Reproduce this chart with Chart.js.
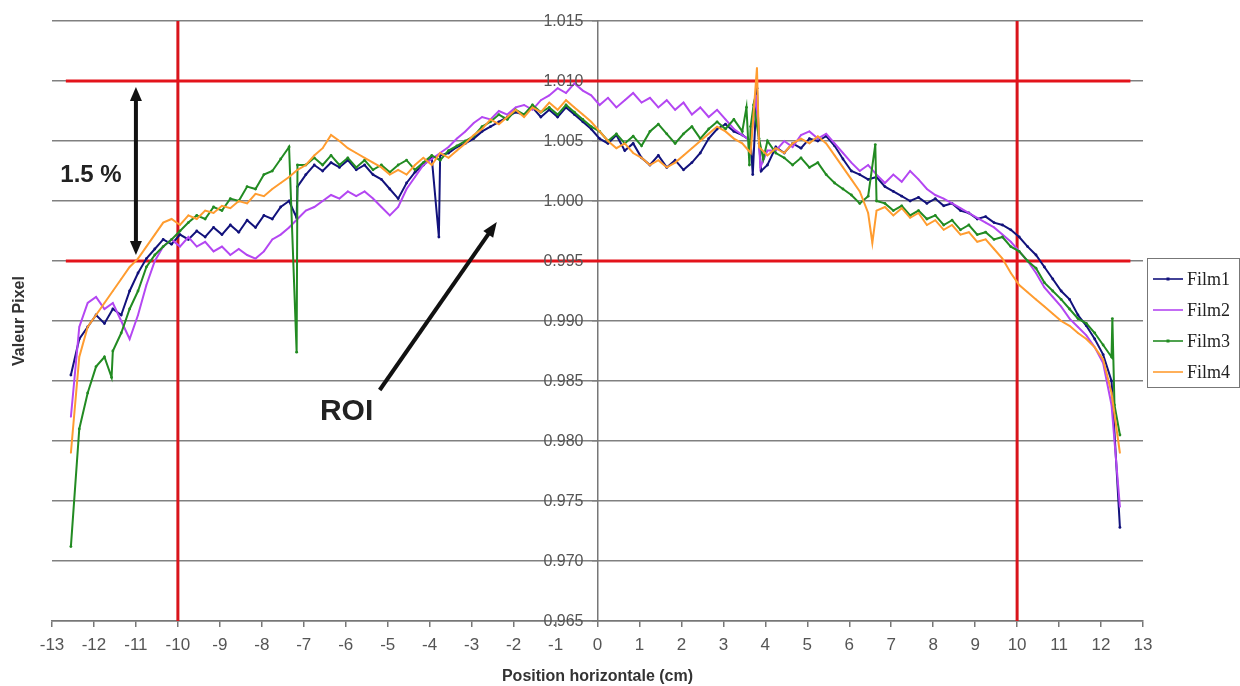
<!DOCTYPE html>
<html><head><meta charset="utf-8">
<script src="https://cdn.jsdelivr.net/npm/chart.js@4.4.0/dist/chart.umd.min.js"></script>
<style>html,body{margin:0;padding:0;background:#fff;}#wrap{width:1240px;height:686px;}</style>
</head><body><div id="wrap"><canvas id="c" width="1240" height="686"></canvas></div>
<script>
// ---- data ----
const positions = [-12.55,-12.35,-12.15,-11.95,-11.75,-11.55,-11.35,-11.15,-10.95,-10.75,-10.55,-10.35,-10.15,-9.95,-9.75,-9.55,-9.35,-9.15,-8.95,-8.75,-8.55,-8.35,-8.15,-7.95,-7.75,-7.55,-7.35,-7.15,-6.95,-6.75,-6.55,-6.35,-6.15,-5.95,-5.75,-5.55,-5.35,-5.15,-4.95,-4.75,-4.55,-4.35,-4.15,-3.95,-3.75,-3.55,-3.35,-3.15,-2.95,-2.75,-2.55,-2.35,-2.15,-1.95,-1.75,-1.55,-1.35,-1.15,-0.95,-0.75,-0.55,-0.35,-0.15,0.05,0.25,0.45,0.65,0.85,1.05,1.25,1.45,1.65,1.85,2.05,2.25,2.45,2.65,2.85,3.05,3.25,3.45,3.65,3.85,4.05,4.25,4.45,4.65,4.85,5.05,5.25,5.45,5.65,5.85,6.05,6.25,6.45,6.65,6.85,7.05,7.25,7.45,7.65,7.85,8.05,8.25,8.45,8.65,8.85,9.05,9.25,9.45,9.65,9.85,10.05,10.25,10.45,10.65,10.85,11.05,11.25,11.45,11.65,11.85,12.05,12.25,12.45];

const film1 = [0.9855,0.9885,0.9895,0.9905,0.9898,0.9910,0.9905,0.9925,0.9940,0.9952,
0.9960,0.9968,0.9964,0.9972,0.9968,0.9975,0.9970,0.9978,0.9972,0.9980,
0.9974,0.9984,0.9978,0.9988,0.9985,0.9995,1.0000,1.0012,1.0022,1.0030,
1.0025,1.0032,1.0028,1.0034,1.0026,1.0030,1.0022,1.0018,1.0010,1.0002,
1.0015,1.0024,1.0030,1.0036,1.0038,1.0040,1.0045,1.0048,1.0052,1.0058,
1.0062,1.0066,1.0070,1.0074,1.0072,1.0078,1.0070,1.0076,1.0070,1.0078,
1.0072,1.0066,1.0060,1.0052,1.0048,1.0055,1.0042,1.0048,1.0036,1.0030,
1.0038,1.0028,1.0034,1.0026,1.0032,1.0040,1.0052,1.0060,1.0064,1.0058,
1.0055,1.0050,1.0048,1.0030,1.0045,1.0040,1.0048,1.0044,1.0052,1.0050,
1.0054,1.0046,1.0035,1.0025,1.0022,1.0018,1.0020,1.0012,1.0008,1.0004,
1.0000,1.0003,0.9998,1.0002,0.9996,0.9998,0.9992,0.9990,0.9985,0.9987,
0.9982,0.9980,0.9976,0.9970,0.9962,0.9955,0.9945,0.9935,0.9925,0.9918,
0.9905,0.9896,0.9885,0.9872,0.9850,0.9728];

const film2 = [0.9820,0.9895,0.9915,0.9920,0.9910,0.9915,0.9900,0.9885,0.9905,0.9930,
0.9950,0.9962,0.9968,0.9962,0.9970,0.9962,0.9966,0.9958,0.9962,0.9955,
0.9960,0.9955,0.9952,0.9958,0.9968,0.9972,0.9978,0.9985,0.9992,0.9995,
1.0000,1.0005,1.0002,1.0008,1.0004,1.0008,1.0002,0.9995,0.9988,0.9995,
1.0010,1.0020,1.0030,1.0035,1.0040,1.0045,1.0052,1.0058,1.0065,1.0070,
1.0068,1.0075,1.0072,1.0078,1.0080,1.0076,1.0084,1.0088,1.0094,1.0090,
1.0098,1.0092,1.0088,1.0080,1.0086,1.0078,1.0084,1.0090,1.0082,1.0086,
1.0078,1.0084,1.0076,1.0082,1.0072,1.0078,1.0070,1.0076,1.0068,1.0060,
1.0055,1.0050,1.0050,1.0042,1.0042,1.0050,1.0045,1.0055,1.0058,1.0052,
1.0056,1.0048,1.0040,1.0032,1.0025,1.0030,1.0022,1.0015,1.0022,1.0016,
1.0025,1.0018,1.0010,1.0005,1.0002,0.9998,0.9994,0.9990,0.9986,0.9982,
0.9978,0.9972,0.9966,0.9958,0.9950,0.9940,0.9928,0.9920,0.9912,0.9902,
0.9895,0.9888,0.9878,0.9865,0.9830,0.9745];

const film3 = [0.9712,0.9810,0.9840,0.9862,0.9870,0.9875,0.9890,0.9910,0.9925,0.9945,
0.9955,0.9962,0.9968,0.9975,0.9982,0.9988,0.9985,0.9995,0.9992,1.0002,
1.0000,1.0012,1.0010,1.0022,1.0025,1.0035,1.0045,1.0030,1.0030,1.0036,
1.0030,1.0038,1.0030,1.0036,1.0028,1.0034,1.0026,1.0030,1.0024,1.0030,
1.0034,1.0026,1.0032,1.0038,1.0034,1.0042,1.0046,1.0050,1.0054,1.0062,
1.0066,1.0072,1.0068,1.0076,1.0072,1.0080,1.0074,1.0078,1.0072,1.0080,
1.0074,1.0068,1.0062,1.0058,1.0050,1.0056,1.0048,1.0054,1.0046,1.0058,
1.0064,1.0056,1.0048,1.0056,1.0062,1.0052,1.0060,1.0066,1.0060,1.0068,
1.0058,1.0062,1.0052,1.0050,1.0040,1.0036,1.0030,1.0036,1.0028,1.0032,
1.0022,1.0015,1.0010,1.0005,0.9998,1.0004,1.0000,0.9998,0.9992,0.9996,
0.9988,0.9992,0.9985,0.9988,0.9980,0.9984,0.9976,0.9980,0.9972,0.9974,
0.9968,0.9970,0.9962,0.9958,0.9950,0.9944,0.9932,0.9925,0.9918,0.9910,
0.9902,0.9898,0.9890,0.9880,0.9870,0.9805];

const film4 = [0.9790,0.9870,0.9895,0.9905,0.9915,0.9925,0.9935,0.9945,0.9952,0.9962,
0.9972,0.9982,0.9985,0.9980,0.9988,0.9985,0.9992,0.9990,0.9996,0.9994,
1.0000,0.9998,1.0006,1.0004,1.0010,1.0015,1.0020,1.0026,1.0030,1.0038,
1.0044,1.0055,1.0050,1.0044,1.0040,1.0036,1.0032,1.0028,1.0022,1.0026,
1.0022,1.0030,1.0036,1.0030,1.0040,1.0036,1.0042,1.0048,1.0055,1.0060,
1.0068,1.0064,1.0070,1.0076,1.0070,1.0078,1.0074,1.0082,1.0076,1.0084,
1.0078,1.0072,1.0066,1.0058,1.0050,1.0044,1.0048,1.0040,1.0036,1.0030,
1.0034,1.0028,1.0032,1.0038,1.0044,1.0050,1.0056,1.0062,1.0058,1.0052,
1.0048,1.0040,1.0045,1.0038,1.0044,1.0040,1.0048,1.0052,1.0048,1.0054,
1.0048,1.0038,1.0028,1.0018,1.0008,0.9990,0.9992,0.9995,0.9988,0.9994,
0.9986,0.9990,0.9980,0.9984,0.9976,0.9980,0.9972,0.9974,0.9966,0.9968,
0.9960,0.9952,0.9940,0.9930,0.9924,0.9918,0.9912,0.9906,0.9900,0.9896,
0.9890,0.9885,0.9878,0.9868,0.9840,0.9790];

// isolated spikes (position, value)
const film1Spikes = [[-7.17,0.9986],[-3.78,0.9970],[3.70,1.0022],[3.80,1.0094],[3.90,1.0025]];
const film2Spikes = [[3.78,1.0088],[3.88,1.0028]];
const film3Spikes = [[-11.58,0.9853],[-7.17,0.9874],[3.55,1.0078],[3.62,1.0030],[3.72,1.0080],[3.95,1.0035],[6.62,1.0047],[12.27,0.9902],[12.32,0.9830]];
const film4Spikes = [[3.80,1.0111],[6.55,0.9965]];

const seriesNames = ['Film1','Film2','Film3','Film4'];
const seriesColors = ['#12127c','#b447f2','#228b22','#ff9c30'];
const seriesMarkers = [true,false,true,false];

const xTicksMin = -13, xTicksMax = 13, xStep = 1;
const yMin = 0.965, yMax = 1.015, yStep = 0.005;
const refLevels = [1.010, 0.995];       // red tolerance lines (±0.75 %)
const refSpan = [-12.67, 12.7];
const roiBounds = [-10, 10];            // red vertical ROI limits

// annotation anchors (data units)
const tolArrow = {x: -11.0, y1: 1.0095, y2: 0.9955};
const tolLabel = {x: -12.07, y: 1.0021, text: '1.5 %'};
const roiArrow = {x1: -5.19, y1: 0.98425, x2: -2.40, y2: 0.99825};
const roiLabel = {x: -5.98, y: 0.98242, text: 'ROI'};

// ---- build chart ----
function toPoints(vals, spikes){
  const pts = positions.map((x,i)=>({x:x, y:vals[i]}));
  spikes.forEach(s=>pts.push({x:s[0], y:s[1]}));
  pts.sort((a,b)=>a.x-b.x);
  return pts;
}
const allVals = [film1, film2, film3, film4];
const allSpikes = [film1Spikes, film2Spikes, film3Spikes, film4Spikes];

const datasets = seriesNames.map((n,i)=>({
  label:n, data:toPoints(allVals[i], allSpikes[i]),
  borderColor:seriesColors[i], backgroundColor:seriesColors[i],
  borderWidth:2, pointRadius: seriesMarkers[i]?1.4:0.8, pointBorderWidth:0,
  pointBackgroundColor:seriesColors[i], tension:0, fill:false, order:4-i
}));
refLevels.forEach(l=>datasets.push({label:'ref', data:[{x:refSpan[0],y:l},{x:refSpan[1],y:l}],
  borderColor:'#e3131b', borderWidth:3, pointRadius:0, fill:false, order:10}));
roiBounds.forEach(b=>datasets.push({label:'roi', data:[{x:b,y:yMin},{x:b,y:yMax}],
  borderColor:'#d9141b', borderWidth:3, pointRadius:0, fill:false, order:10}));

function arrowHead(ctx, x1,y1,x2,y2, len, wid){
  const a = Math.atan2(y2-y1, x2-x1);
  ctx.beginPath();
  ctx.moveTo(x2,y2);
  ctx.lineTo(x2 - len*Math.cos(a) + wid*Math.sin(a), y2 - len*Math.sin(a) - wid*Math.cos(a));
  ctx.lineTo(x2 - len*Math.cos(a) - wid*Math.sin(a), y2 - len*Math.sin(a) + wid*Math.cos(a));
  ctx.closePath(); ctx.fill();
}

const extras = {
  id:'extras',
  afterDraw(chart){
    const ctx = chart.ctx, xs = chart.scales.x, ys = chart.scales.y;
    // y tick labels, left of the central axis
    ctx.save();
    ctx.fillStyle = '#555';
    ctx.font = '16px "Liberation Sans", Arial, sans-serif';
    ctx.textAlign = 'right'; ctx.textBaseline = 'middle';
    const x0 = xs.getPixelForValue(0);
    ys.ticks.forEach(t=>{
      ctx.fillText(Number(t.value).toFixed(3), x0 - 14, ys.getPixelForValue(t.value) + 1);
    });
    ctx.restore();

    // y axis title
    ctx.save();
    ctx.fillStyle = '#333';
    ctx.font = 'bold 16px "Liberation Sans", Arial, sans-serif';
    ctx.translate(20, (chart.chartArea.top+chart.chartArea.bottom)/2);
    ctx.rotate(-Math.PI/2);
    ctx.textAlign='center'; ctx.textBaseline='middle';
    ctx.fillText('Valeur Pixel', 0, 0);
    ctx.restore();

    ctx.save();
    ctx.strokeStyle='#111'; ctx.fillStyle='#111'; ctx.lineWidth=4; ctx.lineCap='butt';
    // double arrow
    const ax = xs.getPixelForValue(tolArrow.x), ay1 = ys.getPixelForValue(tolArrow.y1), ay2 = ys.getPixelForValue(tolArrow.y2);
    ctx.beginPath(); ctx.moveTo(ax, ay1+12); ctx.lineTo(ax, ay2-12); ctx.stroke();
    arrowHead(ctx, ax, ay2-10, ax, ay1, 14, 6);
    arrowHead(ctx, ax, ay1+10, ax, ay2, 14, 6);
    // ROI arrow
    const rx1 = xs.getPixelForValue(roiArrow.x1), ry1 = ys.getPixelForValue(roiArrow.y1);
    const rx2 = xs.getPixelForValue(roiArrow.x2), ry2 = ys.getPixelForValue(roiArrow.y2);
    const ang = Math.atan2(ry2-ry1, rx2-rx1);
    ctx.beginPath(); ctx.moveTo(rx1, ry1); ctx.lineTo(rx2-12*Math.cos(ang), ry2-12*Math.sin(ang)); ctx.stroke();
    arrowHead(ctx, rx1, ry1, rx2, ry2, 15, 6);
    // labels
    ctx.textAlign='center'; ctx.textBaseline='middle';
    ctx.font = 'bold 24px "Liberation Sans", Arial, sans-serif';
    ctx.fillStyle='#222';
    ctx.fillText(tolLabel.text, xs.getPixelForValue(tolLabel.x), ys.getPixelForValue(tolLabel.y));
    ctx.font = 'bold 30px "Liberation Sans", Arial, sans-serif';
    ctx.fillText(roiLabel.text, xs.getPixelForValue(roiLabel.x), ys.getPixelForValue(roiLabel.y));
    ctx.restore();

    // legend
    ctx.save();
    const lx = 1147.5, ly = 258.5, lw = 92, lh = 129;
    ctx.fillStyle='#fff'; ctx.fillRect(lx, ly, lw, lh);
    ctx.strokeStyle='#777'; ctx.lineWidth=1; ctx.strokeRect(lx, ly, lw, lh);
    ctx.font = '18px "Liberation Serif", "Times New Roman", serif';
    ctx.textAlign='left'; ctx.textBaseline='middle';
    seriesNames.forEach((n,i)=>{
      const y = 279 + i*31;
      ctx.strokeStyle = seriesColors[i]; ctx.lineWidth = 1.6;
      ctx.beginPath(); ctx.moveTo(1153, y); ctx.lineTo(1183, y); ctx.stroke();
      if (seriesMarkers[i]) { ctx.fillStyle = seriesColors[i]; ctx.fillRect(1166.5, y-1.5, 3, 3); }
      ctx.fillStyle = '#222';
      ctx.fillText(n, 1187, y+1);
    });
    ctx.restore();
  }
};

new Chart(document.getElementById('c'), {
  type:'line',
  data:{datasets:datasets},
  options:{
    responsive:false, animation:false, devicePixelRatio:1,
    layout:{padding:{left:52, right:97, top:21, bottom:0}},
    plugins:{legend:{display:false}, tooltip:{enabled:false}},
    scales:{
      x:{type:'linear', min:xTicksMin, max:xTicksMax,
        ticks:{stepSize:xStep, autoSkip:false, maxRotation:0, padding:8, color:'#555',
          font:{family:'"Liberation Sans", Arial, sans-serif', size:17}, callback:v=>String(v)},
        grid:{drawOnChartArea:false, drawTicks:true, tickLength:6, color:'#777', lineWidth:1.5},
        border:{display:true, color:'#777', width:1.5},
        title:{display:true, text:'Position horizontale (cm)', color:'#333', padding:0,
          font:{family:'"Liberation Sans", Arial, sans-serif', size:16, weight:'bold'}},
        afterFit:s=>{s.height=65;}
      },
      y:{type:'linear', min:yMin, max:yMax, position:{x:0},
        ticks:{stepSize:yStep, display:false},
        grid:{color:'#808080', lineWidth:1.5, drawTicks:true, tickLength:5},
        border:{display:true, color:'#777', width:1.5}
      }
    }
  },
  plugins:[extras]
});
</script>
</body></html>
